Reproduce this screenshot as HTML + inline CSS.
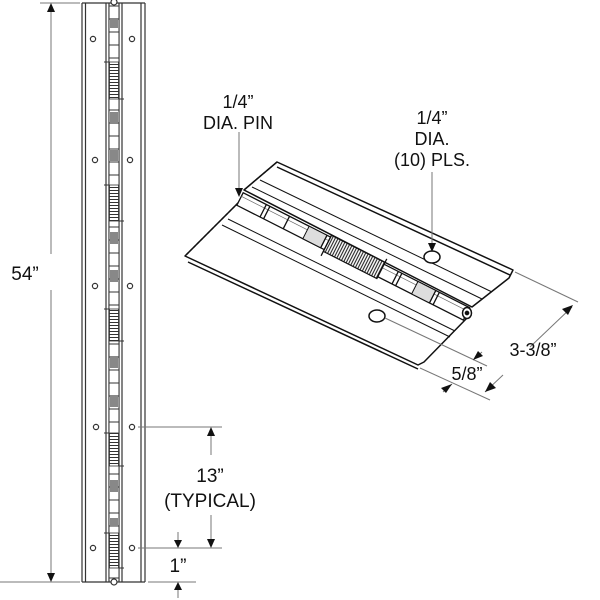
<!DOCTYPE html>
<html><head><style>
html,body{margin:0;padding:0;background:#fff;}
svg{display:block}
text{font-family:"Liberation Sans",Arial,sans-serif;fill:#111;}
</style></head><body>
<svg width="600" height="600" viewBox="0 0 600 600" xmlns="http://www.w3.org/2000/svg">
<defs>
<pattern id="sp" width="4" height="3" patternUnits="userSpaceOnUse"><rect width="4" height="3" fill="#fff"/><line x1="0" y1="1.5" x2="4" y2="1.5" stroke="#333" stroke-width="1"/></pattern>
<pattern id="kn" width="4" height="13" patternUnits="userSpaceOnUse"><rect width="4" height="13" fill="#fff"/><line x1="0" y1="6" x2="4" y2="6" stroke="#333" stroke-width="1"/></pattern>
<pattern id="sp2" width="2.6" height="4" patternUnits="userSpaceOnUse"><rect width="2.6" height="4" fill="#fff"/><line x1="1.3" y1="0" x2="1.3" y2="4" stroke="#222" stroke-width="1.1"/></pattern>
</defs>

<!-- LEFT STRIP -->
<g stroke="#333" fill="none" stroke-width="1.2">
<line x1="82" y1="3" x2="82" y2="582"/><line x1="85.5" y1="3" x2="85.5" y2="582"/>
<line x1="141" y1="3" x2="141" y2="582"/><line x1="145" y1="3" x2="145" y2="582"/>
<line x1="106" y1="3" x2="106" y2="582"/><line x1="122" y1="3" x2="122" y2="582"/>
<line x1="109" y1="3" x2="109" y2="582"/><line x1="119" y1="3" x2="119" y2="582"/>
<line x1="82" y1="582" x2="145" y2="582"/><line x1="82" y1="3" x2="145" y2="3"/>
</g>
<rect x="109.5" y="5" width="9" height="575" fill="url(#kn)"/>
<g fill="url(#sp)" stroke="#333" stroke-width="0.8">
<rect x="109.5" y="62" width="9" height="37"/><rect x="109.5" y="185" width="9" height="36"/>
<rect x="109.5" y="309" width="9" height="32"/><rect x="109.5" y="433" width="9" height="33"/>
<rect x="109.5" y="533" width="9" height="35"/>
</g>
<g fill="#888">
<rect x="110" y="18" width="8" height="10"/><rect x="110" y="112" width="8" height="12"/><rect x="110" y="150" width="8" height="11"/>
<rect x="110" y="232" width="8" height="12"/><rect x="110" y="270" width="8" height="12"/><rect x="110" y="356" width="8" height="12"/>
<rect x="110" y="395" width="8" height="12"/><rect x="110" y="480" width="8" height="12"/><rect x="110" y="518" width="8" height="8"/>
</g>
<g stroke="#333" stroke-width="1">
<line x1="104" y1="62" x2="109" y2="62"/><line x1="119" y1="99" x2="124" y2="99"/>
<line x1="104" y1="185" x2="109" y2="185"/><line x1="119" y1="221" x2="124" y2="221"/>
<line x1="104" y1="309" x2="109" y2="309"/><line x1="119" y1="341" x2="124" y2="341"/>
<line x1="104" y1="433" x2="109" y2="433"/><line x1="119" y1="466" x2="124" y2="466"/>
<line x1="104" y1="533" x2="109" y2="533"/><line x1="119" y1="568" x2="124" y2="568"/>
</g>
<g fill="#fff" stroke="#333" stroke-width="1.2">
<circle cx="93" cy="39" r="2.6"/><circle cx="132" cy="39" r="2.6"/>
<circle cx="95" cy="160" r="2.6"/><circle cx="130" cy="160" r="2.6"/>
<circle cx="95" cy="286" r="2.6"/><circle cx="130" cy="286" r="2.6"/>
<circle cx="96" cy="427" r="2.6"/><circle cx="132" cy="427" r="2.6"/>
<circle cx="93" cy="548" r="2.6"/><circle cx="132" cy="548" r="2.6"/>
<circle cx="114" cy="2" r="3"/><circle cx="114" cy="582" r="3"/>
</g>

<!-- LEFT DIMENSIONS -->
<g stroke="#777" stroke-width="1">
<line x1="40" y1="3" x2="80" y2="3"/><line x1="0" y1="582" x2="80" y2="582"/>
<line x1="51" y1="10" x2="51" y2="254"/><line x1="51" y1="290" x2="51" y2="576"/>
<line x1="138" y1="427" x2="222" y2="427"/><line x1="138" y1="548" x2="222" y2="548"/>
<line x1="148" y1="582" x2="196" y2="582"/>
<line x1="211" y1="430" x2="211" y2="455"/><line x1="211" y1="515" x2="211" y2="545"/>
<line x1="178" y1="532" x2="178" y2="545"/><line x1="178" y1="585" x2="178" y2="598"/>
</g>
<g fill="#111">
<path d="M51,3 L47,12 L55,12z"/><path d="M51,582 L47,573 L55,573z"/>
<path d="M211,427 L207,436 L215,436z"/><path d="M211,548 L207,539 L215,539z"/>
<path d="M178,548 L174,540 L182,540z"/><path d="M178,582 L174,590 L182,590z"/>
</g>
<text x="25" y="280" font-size="19" text-anchor="middle">54”</text>
<text x="210" y="482" font-size="19" text-anchor="middle">13”</text>
<text x="210" y="507" font-size="19" text-anchor="middle">(TYPICAL)</text>
<text x="178" y="572" font-size="19" text-anchor="middle">1”</text>

<!-- ISOMETRIC HINGE -->
<g stroke="#111" stroke-width="1.5" fill="#fff" stroke-linejoin="round">
<path d="M277,162 L513,270 L509,278 L472,307 L244,190 Z"/>
<line x1="277" y1="167" x2="510" y2="275"/>
<line x1="260" y1="180" x2="492" y2="292" stroke-width="1"/>
<line x1="252" y1="187" x2="482" y2="299" stroke-width="1"/>
<path d="M185,256 L418,365 L424,362 L467,318 L238,203 Z"/>
<line x1="188" y1="262" x2="418" y2="369"/>
<line x1="228" y1="219" x2="455" y2="331" stroke-width="1"/>
<line x1="222" y1="225" x2="450" y2="337" stroke-width="1"/>
</g>
<!-- pin in local coords -->
<g transform="translate(240,199) rotate(26.9)" stroke="#111" stroke-width="1.3">
<rect x="0" y="-7" width="254" height="14" fill="#fff"/>
<line x1="0" y1="-3" x2="254" y2="-3" stroke-width="0.7" stroke="#666"/>
<rect x="74" y="-7" width="20" height="14" fill="#ddd" stroke-width="1"/>
<rect x="196" y="-7" width="20" height="14" fill="#ddd" stroke-width="1"/>
<rect x="98" y="-9" width="60" height="18" fill="url(#sp2)" stroke-width="1.2"/>
<g fill="none">
<line x1="26" y1="-7" x2="26" y2="7"/><line x1="30" y1="-7" x2="30" y2="7"/>
<line x1="52" y1="-7" x2="52" y2="7"/>
<line x1="94" y1="-7" x2="94" y2="7"/>
<line x1="98" y1="-9" x2="98" y2="14"/><line x1="158" y1="-13" x2="158" y2="9"/>
<line x1="174" y1="-7" x2="174" y2="7"/><line x1="178" y1="-7" x2="178" y2="7"/>
<line x1="216" y1="-7" x2="216" y2="7"/><line x1="220" y1="-7" x2="220" y2="7"/>
</g>
</g>
<g stroke="#111" stroke-width="1.5" fill="#fff">
<ellipse cx="467" cy="313" rx="4.5" ry="5.5"/>
<circle cx="467" cy="313" r="1.6" fill="#111"/>
<ellipse cx="432" cy="257" rx="8" ry="6"/>
<ellipse cx="377" cy="316" rx="8" ry="6"/>
</g>
<path d="M277,162 L244,190 M238,203 L185,256" stroke="#111" stroke-width="1.3" stroke-dasharray="3,2" fill="none"/>

<!-- iso leaders & dims -->
<g stroke="#777" stroke-width="1">
<line x1="239" y1="132" x2="239" y2="192"/>
<line x1="432" y1="172" x2="432" y2="248"/>
<line x1="515" y1="272" x2="578" y2="302"/>
<line x1="420" y1="368" x2="490" y2="400"/>
<line x1="385" y1="318" x2="487" y2="366"/>
<line x1="572" y1="307" x2="530" y2="347"/><line x1="485" y1="392" x2="503" y2="375"/>
<line x1="482" y1="352" x2="473" y2="360"/><line x1="452" y1="384" x2="443" y2="392"/>
</g>
<g fill="#111">
<path d="M239,197 L235,188 L243,188z"/>
<path d="M432,252 L428,243 L436,243z"/>
<path d="M573,305 L562,309 L568,315z"/>
<path d="M485,392 L490,382 L496,388z"/>
<path d="M473,360 L478,351 L483,356z"/>
<path d="M452,384 L446,393 L441,388z"/>
</g>
<text x="238" y="108" font-size="18" text-anchor="middle">1/4”</text>
<text x="238" y="129" font-size="18" text-anchor="middle">DIA. PIN</text>
<text x="432" y="124" font-size="18" text-anchor="middle">1/4”</text>
<text x="432" y="145" font-size="18" text-anchor="middle">DIA.</text>
<text x="432" y="166" font-size="18" text-anchor="middle">(10) PLS.</text>
<text x="533" y="356" font-size="18" text-anchor="middle">3-3/8”</text>
<text x="467" y="380" font-size="18" text-anchor="middle">5/8”</text>
</svg>
</body></html>
